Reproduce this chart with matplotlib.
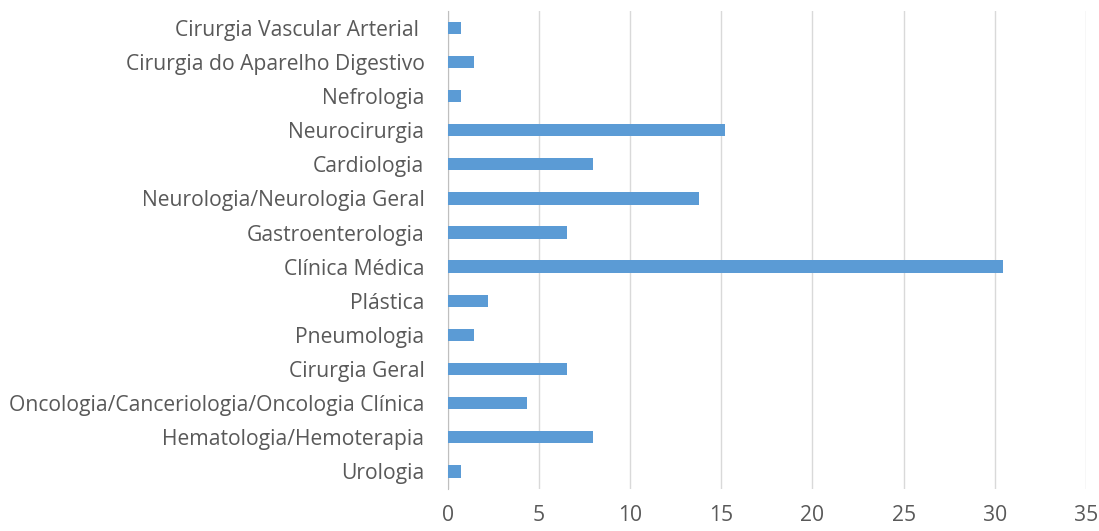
import matplotlib
matplotlib.use("Agg")
import matplotlib.pyplot as plt

plt.rcParams['font.family'] = ['Open Sans', 'DejaVu Sans']

categorias = ["Cirurgia Vascular Arterial ", "Cirurgia do Aparelho Digestivo", "Nefrologia",
              "Neurocirurgia", "Cardiologia", "Neurologia/Neurologia Geral",
              "Gastroenterologia", "Clínica Médica", "Plástica", "Pneumologia",
              "Cirurgia Geral", "Oncologia/Canceriologia/Oncologia Clínica",
              "Hematologia/Hemoterapia", "Urologia"]
valores = [0.72, 1.45, 0.72, 15.22, 7.97, 13.77, 6.52, 30.43, 2.17, 1.45,
           6.52, 4.35, 7.97, 0.72]
xticks = [0, 5, 10, 15, 20, 25, 30, 35]

fig = plt.figure(figsize=(10.99, 5.31), dpi=100)
ax = fig.add_axes([0.4077, 0.08, 0.5803, 0.90])

pos = list(range(len(categorias)))[::-1]
ax.barh(pos, valores, height=0.36, color='#5b9bd5', zorder=3)
ax.set_yticks(pos)
ax.set_yticklabels(categorias, fontsize=15.2, color='#595959')
ax.set_ylim(-0.5, len(categorias) - 0.5)
ax.set_xlim(0, 35)
ax.set_xticks(xticks)
ax.set_xticklabels([str(t) for t in xticks], fontsize=15.2, color='#595959')
ax.grid(axis='x', color='#d9d9d9', linewidth=1, zorder=0)
ax.tick_params(length=0)
ax.tick_params(axis='x', pad=12)
ax.tick_params(axis='y', pad=17)
for s in ['top', 'right', 'bottom']:
    ax.spines[s].set_visible(False)
ax.spines['left'].set_color('#bfbfbf')

fig.savefig('out.png', dpi=100)
